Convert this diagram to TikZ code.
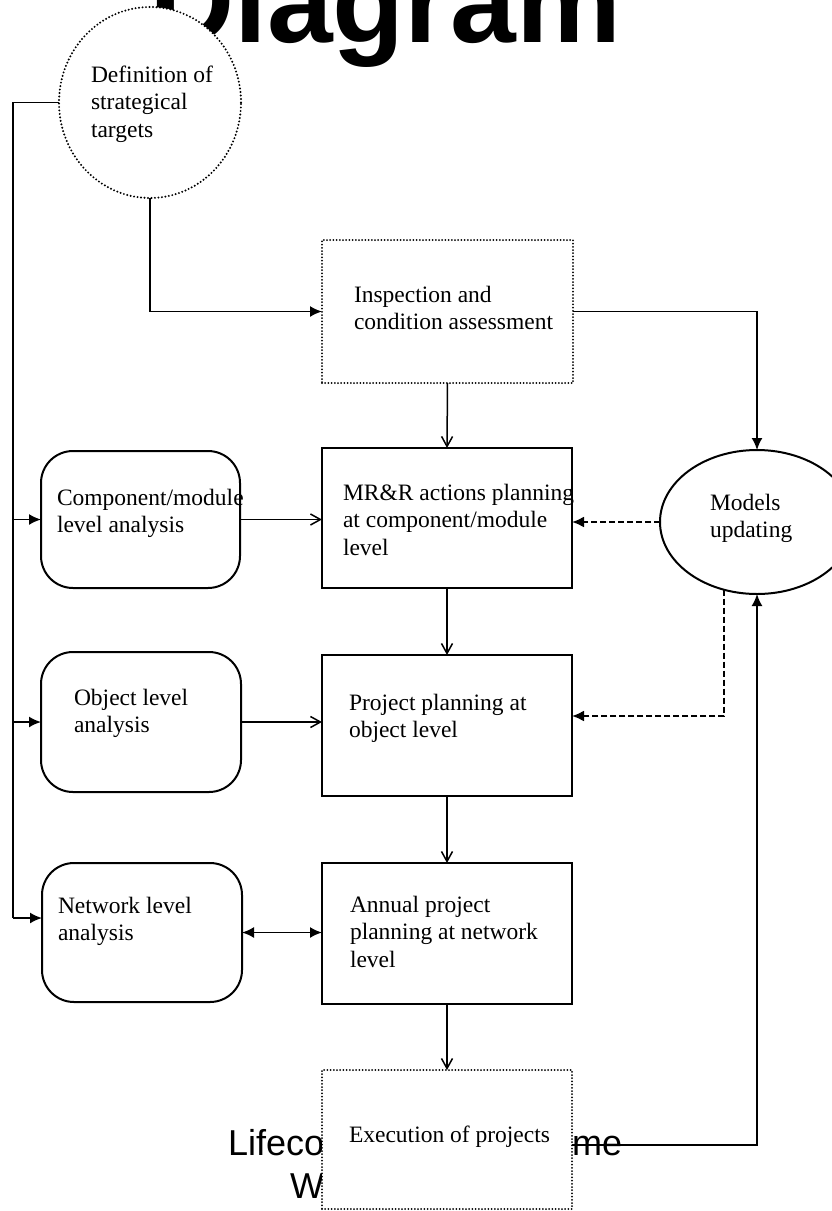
\documentclass[tikz,border=0pt]{standalone}
\usepackage{fontspec}
\setmainfont{Liberation Serif}
\newfontfamily\capsans{Liberation Sans}
\usetikzlibrary{shapes.geometric,arrows.meta}
\pgfdeclarelayer{bg}
\pgfsetlayers{bg,main}
\newcommand{\boxtxt}[1]{\begin{tabular}[t]{@{}l@{}}#1\end{tabular}}
\begin{document}
\begin{tikzpicture}[x=1pt,y=1pt,
  lbl/.style={anchor=base west, inner sep=0, outer sep=0, font=\fontsize{23.5}{27.5}\selectfont},
  plainbox/.style={draw, line width=2pt, fill=white, rectangle, inner sep=0, outer sep=0},
  dotbox/.style={draw, line width=2pt, dash pattern=on 0pt off 3.2pt, line cap=round, fill=white, rectangle, inner sep=0, outer sep=0},
  roundbox/.style={draw, line width=2pt, fill=white, rectangle, rounded corners=32pt, inner sep=0, outer sep=0},
  conn/.style={line width=1.7pt},
  fillarrow/.style={conn, -{Latex[length=12pt,width=11pt]}},
  openarrow/.style={line width=1.5pt, -{Straight Barb[length=10pt,width=11pt]}},
  dblarrow/.style={conn, {Latex[length=12pt,width=11pt]}-{Latex[length=12pt,width=11pt]}},
  dasharrow/.style={line width=2pt, dash pattern=on 6pt off 3pt, -{Latex[length=12pt,width=11pt]}}]
\useasboundingbox (0,0) rectangle (831,-1211);
\begin{pgfonlayer}{bg}
\node[anchor=base west, inner sep=0, font=\capsans\bfseries\fontsize{118}{118}\selectfont] (title) at (149,-42) {Diagram};
\node[anchor=base west, inner sep=0, font=\capsans\fontsize{36}{43}\selectfont] (capa) at (228,-1155) {\hbox to 394pt{Lifeco\hfill me}};
\node[anchor=base west, inner sep=0, font=\capsans\fontsize{36}{43}\selectfont] (capb) at (290,-1198) {W};
\end{pgfonlayer}
% shapes
\node[ellipse, draw, line width=2.2pt, dash pattern=on 0pt off 3.5pt, line cap=round, fill=white, minimum width=182pt, minimum height=191pt, inner sep=0, outer sep=0] (def) at (150,-102.5) {};
\node[dotbox, minimum width=251pt, minimum height=143pt] (insp) at (447.5,-311.5) {};
\node[plainbox, minimum width=250pt, minimum height=140pt] (mrr) at (447,-518) {};
\node[plainbox, minimum width=250pt, minimum height=141pt] (proj) at (447,-725.5) {};
\node[plainbox, minimum width=250pt, minimum height=141pt] (annual) at (447,-933.5) {};
\node[dotbox, minimum width=250pt, minimum height=139pt] (exec) at (447,-1139.5) {};
\node[roundbox, minimum width=199pt, minimum height=137pt] (comp) at (140.5,-519.5) {};
\node[roundbox, minimum width=200pt, minimum height=140pt] (obj) at (141,-722) {};
\node[roundbox, minimum width=200pt, minimum height=139pt] (net) at (142,-932.5) {};
\node[ellipse, draw, line width=2pt, fill=white, minimum width=194pt, minimum height=144pt, inner sep=0, outer sep=0] (models) at (757,-522) {};
% texts
\node[lbl] (tdef) at (91,-82) {\boxtxt{Definition of\\strategical\\targets}};
\node[lbl] (tinsp) at (354,-302) {\boxtxt{Inspection and\\condition assessment}};
\node[lbl] (tmrr) at (343,-500) {\boxtxt{MR\&R actions planning\\at component/module\\level}};
\node[lbl] (tcomp) at (57,-505) {\boxtxt{Component/module\\level analysis}};
\node[lbl] (tmodels) at (710,-510) {\boxtxt{Models\\updating}};
\node[lbl] (tobj) at (74,-705) {\boxtxt{Object level\\analysis}};
\node[lbl] (tproj) at (349,-710) {\boxtxt{Project planning at\\object level}};
\node[lbl] (tannual) at (350,-912) {\boxtxt{Annual project\\planning at network\\level}};
\node[lbl] (tnet) at (58,-913) {\boxtxt{Network level\\analysis}};
\node[lbl] (texec) at (349,-1142) {Execution of projects};
% connectors
\coordinate (lt) at (13,-102.5);
\coordinate (lb) at (13,-918);
\draw[conn] (def.west) -- (lt) -- (lb);
\draw[fillarrow] (lb) -- (lb -| net.west);
\draw[fillarrow] (lt |- comp.west) -- (comp.west);
\draw[fillarrow] (lt |- obj.west) -- (obj.west);
\draw[fillarrow] (def.south) |- (insp.west);
\draw[fillarrow] (insp.east) -| (models.north);
\draw[openarrow] (insp.south) -- (mrr.north);
\draw[openarrow] (mrr.south) -- (proj.north);
\draw[openarrow] (proj.south) -- (annual.north);
\draw[openarrow] (annual.south) -- (exec.north);
\draw[openarrow] (comp.east) -- (comp.east -| mrr.west);
\draw[openarrow] (obj.east) -- (obj.east -| proj.west);
\draw[dblarrow] (net.east) -- (net.east -| annual.west);
\draw[dasharrow] (models.west) -- (models.west -| mrr.east);
\coordinate (pjy) at (0,-716);
\draw[dasharrow] (models.244) |- (proj.east |- pjy);
\coordinate (exy) at (0,-1145);
\draw[fillarrow] (exec.east |- exy) -| (models.south);
\end{tikzpicture}
\end{document}
